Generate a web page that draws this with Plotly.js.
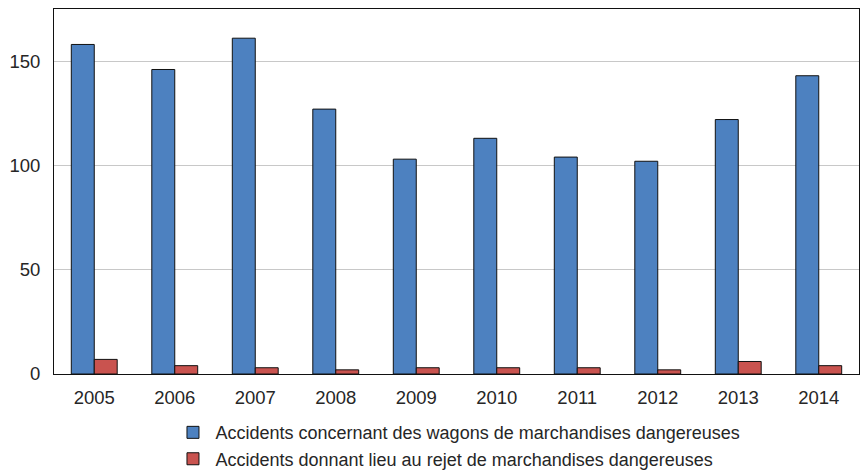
<!DOCTYPE html>
<html>
<head>
<meta charset="utf-8">
<script src="https://cdn.plot.ly/plotly-3.0.1.min.js"></script>
<style>html,body{margin:0;padding:0;background:#fff;}#chart{width:861px;height:473px;}</style>
</head>
<body>
<div id="chart"></div>
<script>
const years = ["2005","2006","2007","2008","2009","2010","2011","2012","2013","2014"];
const wagons = [158,146,161,127,103,113,104,102,122,143];
const rejets = [7,4,3,2,3,3,3,2,6,4];
const seriesNames = ["Accidents concernant des wagons de marchandises dangereuses","Accidents donnant lieu au rejet de marchandises dangereuses"];

const font = "'Liberation Sans', Arial, sans-serif";
const traces = [
  {type:"bar", x:years, y:wagons, name:seriesNames[0], marker:{color:"#4d81c0", line:{color:"#111", width:1}}},
  {type:"bar", x:years, y:rejets, name:seriesNames[1], marker:{color:"#c9534f", line:{color:"#111", width:1}}}
];
const layout = {
  width:861, height:473,
  margin:{l:54, r:2, t:9, b:99, autoexpand:false},
  paper_bgcolor:"#fff", plot_bgcolor:"#fff",
  font:{family:font, size:18, color:"#262626"},
  barmode:"group", bargap:0.43, bargroupgap:0,
  showlegend:true,
  legend:{orientation:"v", x:0.1447, xanchor:"left", y:-0.110, yanchor:"top", font:{size:18, color:"#262626"}, tracegroupgap:0, itemwidth:35},
  xaxis:{type:"category", showline:true, linecolor:"#111", linewidth:1, mirror:true, ticks:"", tickfont:{size:18.5}, showgrid:false, zeroline:false, ticklabelstandoff:7},
  yaxis:{range:[0,175], tickvals:[0,50,100,150], ticks:"", showline:true, linecolor:"#111", linewidth:1, mirror:true, showgrid:true, gridcolor:"#c8c8c8", gridwidth:1, zeroline:false, tickfont:{size:18.5}, ticklabelstandoff:9}
};
Plotly.newPlot("chart", traces, layout, {displayModeBar:false, staticPlot:true});
</script>
</body>
</html>
